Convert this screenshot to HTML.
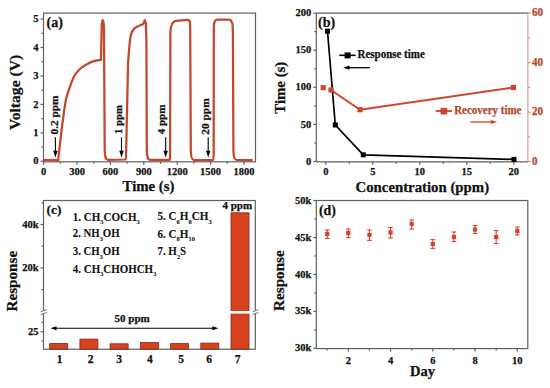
<!DOCTYPE html>
<html><head><meta charset="utf-8"><style>
html,body{margin:0;padding:0;background:#fff;}
svg{display:block;}
text{font-family:"Liberation Serif", serif;font-weight:bold;stroke-width:0.25px;}
</style></head><body>
<svg width="550" height="388" viewBox="0 0 550 388">
<rect width="550" height="388" fill="#fff"/>
<rect x="43.50" y="13.10" width="212.00" height="148.70" fill="none" stroke="#606060" stroke-width="1.2"/>
<line x1="40.50" y1="161.30" x2="43.50" y2="161.30" stroke="#606060" stroke-width="1.2"/>
<text x="38.60" y="164.40" font-size="11.2" text-anchor="end" fill="#111" stroke="#111" textLength="5.25" lengthAdjust="spacingAndGlyphs">0</text>
<line x1="40.50" y1="132.85" x2="43.50" y2="132.85" stroke="#606060" stroke-width="1.2"/>
<text x="38.60" y="135.95" font-size="11.2" text-anchor="end" fill="#111" stroke="#111" textLength="5.25" lengthAdjust="spacingAndGlyphs">1</text>
<line x1="40.50" y1="104.40" x2="43.50" y2="104.40" stroke="#606060" stroke-width="1.2"/>
<text x="38.60" y="107.50" font-size="11.2" text-anchor="end" fill="#111" stroke="#111" textLength="5.25" lengthAdjust="spacingAndGlyphs">2</text>
<line x1="40.50" y1="75.95" x2="43.50" y2="75.95" stroke="#606060" stroke-width="1.2"/>
<text x="38.60" y="79.05" font-size="11.2" text-anchor="end" fill="#111" stroke="#111" textLength="5.25" lengthAdjust="spacingAndGlyphs">3</text>
<line x1="40.50" y1="47.50" x2="43.50" y2="47.50" stroke="#606060" stroke-width="1.2"/>
<text x="38.60" y="50.60" font-size="11.2" text-anchor="end" fill="#111" stroke="#111" textLength="5.25" lengthAdjust="spacingAndGlyphs">4</text>
<line x1="40.50" y1="19.05" x2="43.50" y2="19.05" stroke="#606060" stroke-width="1.2"/>
<text x="38.60" y="22.15" font-size="11.2" text-anchor="end" fill="#111" stroke="#111" textLength="5.25" lengthAdjust="spacingAndGlyphs">5</text>
<line x1="41.50" y1="147.08" x2="43.50" y2="147.08" stroke="#606060" stroke-width="1.2"/>
<line x1="41.50" y1="118.63" x2="43.50" y2="118.63" stroke="#606060" stroke-width="1.2"/>
<line x1="41.50" y1="90.18" x2="43.50" y2="90.18" stroke="#606060" stroke-width="1.2"/>
<line x1="41.50" y1="61.73" x2="43.50" y2="61.73" stroke="#606060" stroke-width="1.2"/>
<line x1="41.50" y1="33.28" x2="43.50" y2="33.28" stroke="#606060" stroke-width="1.2"/>
<line x1="43.60" y1="161.80" x2="43.60" y2="164.80" stroke="#606060" stroke-width="1.2"/>
<text x="43.60" y="175.30" font-size="11.2" text-anchor="middle" fill="#111" stroke="#111" textLength="5.25" lengthAdjust="spacingAndGlyphs">0</text>
<line x1="77.00" y1="161.80" x2="77.00" y2="164.80" stroke="#606060" stroke-width="1.2"/>
<text x="77.00" y="175.30" font-size="11.2" text-anchor="middle" fill="#111" stroke="#111" textLength="15.75" lengthAdjust="spacingAndGlyphs">300</text>
<line x1="110.40" y1="161.80" x2="110.40" y2="164.80" stroke="#606060" stroke-width="1.2"/>
<text x="110.40" y="175.30" font-size="11.2" text-anchor="middle" fill="#111" stroke="#111" textLength="15.75" lengthAdjust="spacingAndGlyphs">600</text>
<line x1="143.80" y1="161.80" x2="143.80" y2="164.80" stroke="#606060" stroke-width="1.2"/>
<text x="143.80" y="175.30" font-size="11.2" text-anchor="middle" fill="#111" stroke="#111" textLength="15.75" lengthAdjust="spacingAndGlyphs">900</text>
<line x1="177.20" y1="161.80" x2="177.20" y2="164.80" stroke="#606060" stroke-width="1.2"/>
<text x="177.20" y="175.30" font-size="11.2" text-anchor="middle" fill="#111" stroke="#111" textLength="21.0" lengthAdjust="spacingAndGlyphs">1200</text>
<line x1="210.59" y1="161.80" x2="210.59" y2="164.80" stroke="#606060" stroke-width="1.2"/>
<text x="210.59" y="175.30" font-size="11.2" text-anchor="middle" fill="#111" stroke="#111" textLength="21.0" lengthAdjust="spacingAndGlyphs">1500</text>
<line x1="243.99" y1="161.80" x2="243.99" y2="164.80" stroke="#606060" stroke-width="1.2"/>
<text x="243.99" y="175.30" font-size="11.2" text-anchor="middle" fill="#111" stroke="#111" textLength="21.0" lengthAdjust="spacingAndGlyphs">1800</text>
<line x1="60.30" y1="161.80" x2="60.30" y2="163.80" stroke="#606060" stroke-width="1.2"/>
<line x1="93.70" y1="161.80" x2="93.70" y2="163.80" stroke="#606060" stroke-width="1.2"/>
<line x1="127.10" y1="161.80" x2="127.10" y2="163.80" stroke="#606060" stroke-width="1.2"/>
<line x1="160.50" y1="161.80" x2="160.50" y2="163.80" stroke="#606060" stroke-width="1.2"/>
<line x1="193.90" y1="161.80" x2="193.90" y2="163.80" stroke="#606060" stroke-width="1.2"/>
<line x1="227.29" y1="161.80" x2="227.29" y2="163.80" stroke="#606060" stroke-width="1.2"/>
<text x="148.50" y="191.40" font-size="14.8" text-anchor="middle" fill="#111" stroke="#111">Time (s)</text>
<text x="20.00" y="92.50" font-size="15.6" text-anchor="middle" fill="#111" stroke="#111" transform="rotate(-90 20.00 92.50)">Voltage (V)</text>
<text x="46.60" y="26.90" font-size="14.0" text-anchor="start" fill="#111" stroke="#111">(a)</text>
<path d="M43.80,160.20 C44.83,160.17 47.73,160.03 50.00,160.00 C52.27,159.97 56.02,160.25 57.40,160.00 C58.78,159.75 57.77,162.10 58.30,158.50 C58.83,154.90 59.82,144.98 60.60,138.40 C61.38,131.82 62.12,125.40 63.00,119.00 C63.88,112.60 64.82,105.17 65.90,100.00 C66.98,94.83 68.10,92.00 69.50,88.00 C70.90,84.00 72.52,79.20 74.30,76.00 C76.08,72.80 78.10,70.77 80.20,68.80 C82.30,66.83 84.67,65.47 86.90,64.20 C89.13,62.93 91.25,61.92 93.60,61.20 C95.95,60.48 99.77,60.12 101.00,59.90 L101.6,30 C101.6,22 102.0,19.8 102.7,19.8 C103.5,19.8 103.9,22 104.0,30 L104.7,150 C104.9,157 105.6,159.5 108,159.9 L125.6,159.5 C126.1,159 126.2,150 126.4,140 L128.1,62  C128.37,58.83 129.20,47.62 129.70,43.00 C130.20,38.38 130.45,36.58 131.10,34.30 C131.75,32.02 132.57,30.62 133.60,29.30 C134.63,27.98 135.85,27.18 137.30,26.40 C138.75,25.62 141.25,25.08 142.30,24.60 C143.35,24.12 143.38,23.68 143.60,23.50 L144.7,20.2 L145.9,23 L146.4,40 L146.8,150 C147.0,157 147.6,159.5 149.8,159.9 L169.5,159.9 C170.0,159.9 170.1,157 170.1,150 L170.4,32 C170.8,25 172.5,21.2 176,20.8 L187.5,19.8 C189.4,19.6 190.0,21 190.2,26 L190.8,150 C190.9,157 191.6,159.9 193.8,160.0 L213.4,160.0 C213.6,160.0 213.7,157 213.7,150 L213.8,28 C213.9,21.5 214.8,19.8 217.5,19.7 L228.5,19.6 C230.5,19.6 231.5,20.5 232.2,23 C232.8,25.5 232.9,28 232.9,34 L233.4,150 C233.5,157 234.2,159.9 236.5,160.0 L251.8,160.1" fill="none" stroke="#c4472c" stroke-width="2.25" stroke-linejoin="round" stroke-linecap="round"/>
<line x1="55.40" y1="137.30" x2="55.40" y2="151.80" stroke="#000" stroke-width="1.1"/>
<path d="M53.20,150.80 L57.60,150.80 L55.40,157.60 Z" fill="#000"/>
<line x1="121.50" y1="137.30" x2="121.50" y2="151.80" stroke="#000" stroke-width="1.1"/>
<path d="M119.30,150.80 L123.70,150.80 L121.50,157.60 Z" fill="#000"/>
<line x1="165.70" y1="137.30" x2="165.70" y2="151.80" stroke="#000" stroke-width="1.1"/>
<path d="M163.50,150.80 L167.90,150.80 L165.70,157.60 Z" fill="#000"/>
<line x1="208.20" y1="137.30" x2="208.20" y2="151.80" stroke="#000" stroke-width="1.1"/>
<path d="M206.00,150.80 L210.40,150.80 L208.20,157.60 Z" fill="#000"/>
<text x="58.50" y="134.40" font-size="11.3" text-anchor="start" fill="#111" stroke="#111" transform="rotate(-90 58.50 134.40)">0.2 ppm</text>
<text x="121.80" y="134.00" font-size="10.7" text-anchor="start" fill="#111" stroke="#111" transform="rotate(-90 121.80 134.00)">1 ppm</text>
<text x="165.20" y="134.30" font-size="11" text-anchor="start" fill="#111" stroke="#111" transform="rotate(-90 165.20 134.30)">4 ppm</text>
<text x="209.00" y="134.70" font-size="11.4" text-anchor="start" fill="#111" stroke="#111" transform="rotate(-90 209.00 134.70)">20 ppm</text>
<line x1="316.30" y1="13.10" x2="527.90" y2="13.10" stroke="#606060" stroke-width="1.2"/>
<line x1="316.30" y1="13.10" x2="316.30" y2="161.80" stroke="#606060" stroke-width="1.2"/>
<line x1="316.30" y1="161.80" x2="527.90" y2="161.80" stroke="#606060" stroke-width="1.2"/>
<line x1="527.90" y1="13.10" x2="527.90" y2="161.80" stroke="#d98b7c" stroke-width="1"/>
<line x1="313.30" y1="161.50" x2="316.30" y2="161.50" stroke="#606060" stroke-width="1.2"/>
<text x="311.30" y="164.60" font-size="11.2" text-anchor="end" fill="#111" stroke="#111" textLength="5.25" lengthAdjust="spacingAndGlyphs">0</text>
<line x1="313.30" y1="124.40" x2="316.30" y2="124.40" stroke="#606060" stroke-width="1.2"/>
<text x="311.30" y="127.50" font-size="11.2" text-anchor="end" fill="#111" stroke="#111" textLength="10.5" lengthAdjust="spacingAndGlyphs">50</text>
<line x1="313.30" y1="87.30" x2="316.30" y2="87.30" stroke="#606060" stroke-width="1.2"/>
<text x="311.30" y="90.40" font-size="11.2" text-anchor="end" fill="#111" stroke="#111" textLength="15.75" lengthAdjust="spacingAndGlyphs">100</text>
<line x1="313.30" y1="50.20" x2="316.30" y2="50.20" stroke="#606060" stroke-width="1.2"/>
<text x="311.30" y="53.30" font-size="11.2" text-anchor="end" fill="#111" stroke="#111" textLength="15.75" lengthAdjust="spacingAndGlyphs">150</text>
<line x1="313.30" y1="13.10" x2="316.30" y2="13.10" stroke="#606060" stroke-width="1.2"/>
<text x="311.30" y="16.20" font-size="11.2" text-anchor="end" fill="#111" stroke="#111" textLength="15.75" lengthAdjust="spacingAndGlyphs">200</text>
<line x1="314.30" y1="142.95" x2="316.30" y2="142.95" stroke="#606060" stroke-width="1.2"/>
<line x1="314.30" y1="105.85" x2="316.30" y2="105.85" stroke="#606060" stroke-width="1.2"/>
<line x1="314.30" y1="68.75" x2="316.30" y2="68.75" stroke="#606060" stroke-width="1.2"/>
<line x1="314.30" y1="31.65" x2="316.30" y2="31.65" stroke="#606060" stroke-width="1.2"/>
<line x1="527.90" y1="161.50" x2="530.90" y2="161.50" stroke="#d98b7c" stroke-width="1.2"/>
<text x="532.00" y="164.80" font-size="11.5" text-anchor="start" fill="#b4472e" stroke="#b4472e" textLength="5.5" lengthAdjust="spacingAndGlyphs">0</text>
<line x1="527.90" y1="112.04" x2="530.90" y2="112.04" stroke="#d98b7c" stroke-width="1.2"/>
<text x="532.00" y="115.34" font-size="11.5" text-anchor="start" fill="#b4472e" stroke="#b4472e" textLength="11.0" lengthAdjust="spacingAndGlyphs">20</text>
<line x1="527.90" y1="62.58" x2="530.90" y2="62.58" stroke="#d98b7c" stroke-width="1.2"/>
<text x="532.00" y="65.88" font-size="11.5" text-anchor="start" fill="#b4472e" stroke="#b4472e" textLength="11.0" lengthAdjust="spacingAndGlyphs">40</text>
<line x1="527.90" y1="13.12" x2="530.90" y2="13.12" stroke="#d98b7c" stroke-width="1.2"/>
<text x="532.00" y="16.42" font-size="11.5" text-anchor="start" fill="#b4472e" stroke="#b4472e" textLength="11.0" lengthAdjust="spacingAndGlyphs">60</text>
<line x1="527.90" y1="136.77" x2="529.90" y2="136.77" stroke="#d98b7c" stroke-width="1.2"/>
<line x1="527.90" y1="87.31" x2="529.90" y2="87.31" stroke="#d98b7c" stroke-width="1.2"/>
<line x1="527.90" y1="37.85" x2="529.90" y2="37.85" stroke="#d98b7c" stroke-width="1.2"/>
<line x1="325.80" y1="161.80" x2="325.80" y2="164.80" stroke="#606060" stroke-width="1.2"/>
<text x="325.80" y="175.30" font-size="11.2" text-anchor="middle" fill="#111" stroke="#111" textLength="5.25" lengthAdjust="spacingAndGlyphs">0</text>
<line x1="372.80" y1="161.80" x2="372.80" y2="164.80" stroke="#606060" stroke-width="1.2"/>
<text x="372.80" y="175.30" font-size="11.2" text-anchor="middle" fill="#111" stroke="#111" textLength="5.25" lengthAdjust="spacingAndGlyphs">5</text>
<line x1="419.80" y1="161.80" x2="419.80" y2="164.80" stroke="#606060" stroke-width="1.2"/>
<text x="419.80" y="175.30" font-size="11.2" text-anchor="middle" fill="#111" stroke="#111" textLength="10.5" lengthAdjust="spacingAndGlyphs">10</text>
<line x1="466.80" y1="161.80" x2="466.80" y2="164.80" stroke="#606060" stroke-width="1.2"/>
<text x="466.80" y="175.30" font-size="11.2" text-anchor="middle" fill="#111" stroke="#111" textLength="10.5" lengthAdjust="spacingAndGlyphs">15</text>
<line x1="513.80" y1="161.80" x2="513.80" y2="164.80" stroke="#606060" stroke-width="1.2"/>
<text x="513.80" y="175.30" font-size="11.2" text-anchor="middle" fill="#111" stroke="#111" textLength="10.5" lengthAdjust="spacingAndGlyphs">20</text>
<line x1="349.30" y1="161.80" x2="349.30" y2="163.80" stroke="#606060" stroke-width="1.2"/>
<line x1="396.30" y1="161.80" x2="396.30" y2="163.80" stroke="#606060" stroke-width="1.2"/>
<line x1="443.30" y1="161.80" x2="443.30" y2="163.80" stroke="#606060" stroke-width="1.2"/>
<line x1="490.30" y1="161.80" x2="490.30" y2="163.80" stroke="#606060" stroke-width="1.2"/>
<text x="422.30" y="191.80" font-size="14.8" text-anchor="middle" fill="#111" stroke="#111">Concentration (ppm)</text>
<text x="284.70" y="87.70" font-size="14.8" text-anchor="middle" fill="#111" stroke="#111" transform="rotate(-90 284.70 87.70)">Time (s)</text>
<text x="318.00" y="26.60" font-size="14.0" text-anchor="start" fill="#111" stroke="#111">(b)</text>
<polyline points="331.0,90.0 360.0,109.7 513.5,87.5" fill="none" stroke="#d2452a" stroke-width="1.9"/>
<polyline points="327.5,31.2 335.3,125.0 363.3,154.8 514.0,159.4" fill="none" stroke="#000" stroke-width="1.7"/>
<rect x="320.60" y="85.10" width="5.2" height="5.2" fill="#d2452a"/>
<rect x="328.40" y="87.40" width="5.2" height="5.2" fill="#d2452a"/>
<rect x="357.40" y="107.10" width="5.2" height="5.2" fill="#d2452a"/>
<rect x="510.90" y="84.90" width="5.2" height="5.2" fill="#d2452a"/>
<rect x="325.00" y="28.70" width="5.0" height="5.0" fill="#000"/>
<rect x="332.80" y="122.50" width="5.0" height="5.0" fill="#000"/>
<rect x="360.80" y="152.30" width="5.0" height="5.0" fill="#000"/>
<rect x="511.50" y="156.90" width="5.0" height="5.0" fill="#000"/>
<line x1="339.30" y1="55.30" x2="355.60" y2="55.30" stroke="#000" stroke-width="1.6"/>
<rect x="344.6" y="52.4" width="6.0" height="6.0" fill="#000"/>
<text x="357.60" y="58.00" font-size="11.8" text-anchor="start" fill="#111" stroke="#111" textLength="67.2" lengthAdjust="spacingAndGlyphs">Response time</text>
<line x1="345.00" y1="67.70" x2="369.90" y2="67.70" stroke="#000" stroke-width="1.3"/>
<path d="M343.2,67.7 L349.5,65.6 L349.5,69.8 Z" fill="#000"/>
<line x1="435.80" y1="111.00" x2="452.10" y2="111.00" stroke="#d2452a" stroke-width="1.8"/>
<rect x="440.9" y="108.1" width="6.0" height="6.0" fill="#d2452a" stroke="#a83a22" stroke-width="0.5"/>
<text x="454.20" y="113.80" font-size="11.8" text-anchor="start" fill="#b4472e" stroke="#b4472e" textLength="67.3" lengthAdjust="spacingAndGlyphs">Recovery time</text>
<line x1="470.40" y1="122.00" x2="495.00" y2="122.00" stroke="#d2452a" stroke-width="1.3"/>
<path d="M497.2,122 L490.9,119.9 L490.9,124.1 Z" fill="#d2452a"/>
<rect x="43.50" y="200.50" width="211.80" height="148.70" fill="none" stroke="#606060" stroke-width="1.2"/>
<line x1="40.50" y1="267.90" x2="43.50" y2="267.90" stroke="#606060" stroke-width="1.2"/>
<text x="38.60" y="271.00" font-size="11.2" text-anchor="end" fill="#111" stroke="#111" textLength="16.34" lengthAdjust="spacingAndGlyphs">20k</text>
<line x1="40.50" y1="224.50" x2="43.50" y2="224.50" stroke="#606060" stroke-width="1.2"/>
<text x="38.60" y="227.60" font-size="11.2" text-anchor="end" fill="#111" stroke="#111" textLength="16.34" lengthAdjust="spacingAndGlyphs">40k</text>
<line x1="41.50" y1="289.60" x2="43.50" y2="289.60" stroke="#606060" stroke-width="1.2"/>
<line x1="41.50" y1="246.20" x2="43.50" y2="246.20" stroke="#606060" stroke-width="1.2"/>
<line x1="41.50" y1="202.80" x2="43.50" y2="202.80" stroke="#606060" stroke-width="1.2"/>
<line x1="40.50" y1="331.70" x2="43.50" y2="331.70" stroke="#606060" stroke-width="1.2"/>
<text x="38.60" y="334.80" font-size="11.2" text-anchor="end" fill="#111" stroke="#111" textLength="10.5" lengthAdjust="spacingAndGlyphs">25</text>
<line x1="41.50" y1="341.00" x2="43.50" y2="341.00" stroke="#606060" stroke-width="1.2"/>
<line x1="41.50" y1="322.40" x2="43.50" y2="322.40" stroke="#606060" stroke-width="1.2"/>
<rect x="49.70" y="343.60" width="18.0" height="5.60" fill="#d8411d" stroke="#7a2c18" stroke-width="0.8"/>
<text x="59.70" y="363.40" font-size="11.5" text-anchor="middle" fill="#111" stroke="#111">1</text>
<rect x="79.92" y="339.10" width="18.0" height="10.10" fill="#d8411d" stroke="#7a2c18" stroke-width="0.8"/>
<text x="90.60" y="363.40" font-size="11.5" text-anchor="middle" fill="#111" stroke="#111">2</text>
<rect x="110.14" y="343.80" width="18.0" height="5.40" fill="#d8411d" stroke="#7a2c18" stroke-width="0.8"/>
<text x="119.00" y="363.40" font-size="11.5" text-anchor="middle" fill="#111" stroke="#111">3</text>
<rect x="140.36" y="342.40" width="18.0" height="6.80" fill="#d8411d" stroke="#7a2c18" stroke-width="0.8"/>
<text x="149.90" y="363.40" font-size="11.5" text-anchor="middle" fill="#111" stroke="#111">4</text>
<rect x="170.58" y="343.60" width="18.0" height="5.60" fill="#d8411d" stroke="#7a2c18" stroke-width="0.8"/>
<text x="181.00" y="363.40" font-size="11.5" text-anchor="middle" fill="#111" stroke="#111">5</text>
<rect x="200.80" y="343.10" width="18.0" height="6.10" fill="#d8411d" stroke="#7a2c18" stroke-width="0.8"/>
<text x="209.20" y="363.40" font-size="11.5" text-anchor="middle" fill="#111" stroke="#111">6</text>
<rect x="231.02" y="212.8" width="18.0" height="136.40" fill="#d8411d" stroke="#7a2c18" stroke-width="0.8"/>
<text x="237.60" y="363.40" font-size="11.5" text-anchor="middle" fill="#111" stroke="#111">7</text>
<rect x="230.02" y="311.0" width="20" height="2.6" fill="#fff"/>
<path d="M40.90,311.80 L46.70,309.60 L46.70,312.40 L40.90,314.60 Z" fill="#fff"/>
<line x1="40.90" y1="311.80" x2="46.70" y2="309.60" stroke="#666" stroke-width="0.9"/>
<line x1="40.90" y1="314.60" x2="46.70" y2="312.40" stroke="#666" stroke-width="0.9"/>
<path d="M252.70,311.80 L258.50,309.60 L258.50,312.40 L252.70,314.60 Z" fill="#fff"/>
<line x1="252.70" y1="311.80" x2="258.50" y2="309.60" stroke="#666" stroke-width="0.9"/>
<line x1="252.70" y1="314.60" x2="258.50" y2="312.40" stroke="#666" stroke-width="0.9"/>
<text x="237.30" y="208.60" font-size="11" text-anchor="middle" fill="#111" stroke="#111">4 ppm</text>
<line x1="53.00" y1="328.30" x2="216.00" y2="328.30" stroke="#000" stroke-width="1.1"/>
<path d="M50.5,328.3 L56.5,326.3 L56.5,330.3 Z" fill="#000"/>
<path d="M218.3,328.3 L212.3,326.3 L212.3,330.3 Z" fill="#000"/>
<text x="132.20" y="322.30" font-size="11" text-anchor="middle" fill="#111" stroke="#111">50 ppm</text>
<text x="46.60" y="213.60" font-size="13.4" text-anchor="start" fill="#111" stroke="#111">(c)</text>
<text x="17.50" y="281.20" font-size="15.2" text-anchor="middle" fill="#111" stroke="#111" transform="rotate(-90 17.50 281.20)">Response</text>
<text x="72.8" y="221.0" font-size="11.8" fill="#111" stroke="#111" style="stroke-width:0.1px" textLength="67.0" lengthAdjust="spacingAndGlyphs"><tspan dy="0">1. CH</tspan><tspan font-size="6.8" dy="3.4">3</tspan><tspan dy="-3.4">COCH</tspan><tspan font-size="6.8" dy="3.4">3</tspan></text>
<text x="72.8" y="237.1" font-size="11.8" fill="#111" stroke="#111" style="stroke-width:0.1px" textLength="46.8" lengthAdjust="spacingAndGlyphs"><tspan dy="0">2. NH</tspan><tspan font-size="6.8" dy="3.4">3</tspan><tspan dy="-3.4">OH</tspan></text>
<text x="72.8" y="255.1" font-size="11.8" fill="#111" stroke="#111" style="stroke-width:0.1px" textLength="46.8" lengthAdjust="spacingAndGlyphs"><tspan dy="0">3. CH</tspan><tspan font-size="6.8" dy="3.4">3</tspan><tspan dy="-3.4">OH</tspan></text>
<text x="72.8" y="272.6" font-size="11.8" fill="#111" stroke="#111" style="stroke-width:0.1px" textLength="83.5" lengthAdjust="spacingAndGlyphs"><tspan dy="0">4. CH</tspan><tspan font-size="6.8" dy="3.4">3</tspan><tspan dy="-3.4">CHOHCH</tspan><tspan font-size="6.8" dy="3.4">3</tspan></text>
<text x="157.4" y="220.4" font-size="11.8" fill="#111" stroke="#111" style="stroke-width:0.1px" textLength="54.3" lengthAdjust="spacingAndGlyphs"><tspan dy="0">5. C</tspan><tspan font-size="6.8" dy="3.4">6</tspan><tspan dy="-3.4">H</tspan><tspan font-size="6.8" dy="3.4">8</tspan><tspan dy="-3.4">CH</tspan><tspan font-size="6.8" dy="3.4">3</tspan></text>
<text x="157.4" y="237.6" font-size="11.8" fill="#111" stroke="#111" style="stroke-width:0.1px" textLength="37.5" lengthAdjust="spacingAndGlyphs"><tspan dy="0">6. C</tspan><tspan font-size="6.8" dy="3.4">8</tspan><tspan dy="-3.4">H</tspan><tspan font-size="6.8" dy="3.4">10</tspan></text>
<text x="157.4" y="255.4" font-size="11.8" fill="#111" stroke="#111" style="stroke-width:0.1px" textLength="28.8" lengthAdjust="spacingAndGlyphs"><tspan dy="0">7. H</tspan><tspan font-size="6.8" dy="3.4">2</tspan><tspan dy="-3.4">S</tspan></text>
<rect x="316.30" y="200.50" width="211.50" height="148.10" fill="none" stroke="#606060" stroke-width="1.2"/>
<line x1="313.30" y1="348.30" x2="316.30" y2="348.30" stroke="#606060" stroke-width="1.2"/>
<text x="311.30" y="351.40" font-size="11.2" text-anchor="end" fill="#111" stroke="#111" textLength="16.34" lengthAdjust="spacingAndGlyphs">30k</text>
<line x1="313.30" y1="311.35" x2="316.30" y2="311.35" stroke="#606060" stroke-width="1.2"/>
<text x="311.30" y="314.45" font-size="11.2" text-anchor="end" fill="#111" stroke="#111" textLength="16.34" lengthAdjust="spacingAndGlyphs">35k</text>
<line x1="313.30" y1="274.40" x2="316.30" y2="274.40" stroke="#606060" stroke-width="1.2"/>
<text x="311.30" y="277.50" font-size="11.2" text-anchor="end" fill="#111" stroke="#111" textLength="16.34" lengthAdjust="spacingAndGlyphs">40k</text>
<line x1="313.30" y1="237.45" x2="316.30" y2="237.45" stroke="#606060" stroke-width="1.2"/>
<text x="311.30" y="240.55" font-size="11.2" text-anchor="end" fill="#111" stroke="#111" textLength="16.34" lengthAdjust="spacingAndGlyphs">45k</text>
<line x1="313.30" y1="200.50" x2="316.30" y2="200.50" stroke="#606060" stroke-width="1.2"/>
<text x="311.30" y="203.60" font-size="11.2" text-anchor="end" fill="#111" stroke="#111" textLength="16.34" lengthAdjust="spacingAndGlyphs">50k</text>
<line x1="314.30" y1="329.82" x2="316.30" y2="329.82" stroke="#606060" stroke-width="1.2"/>
<line x1="314.30" y1="292.88" x2="316.30" y2="292.88" stroke="#606060" stroke-width="1.2"/>
<line x1="314.30" y1="255.93" x2="316.30" y2="255.93" stroke="#606060" stroke-width="1.2"/>
<line x1="314.30" y1="218.97" x2="316.30" y2="218.97" stroke="#606060" stroke-width="1.2"/>
<line x1="327.20" y1="348.60" x2="327.20" y2="350.60" stroke="#606060" stroke-width="1.2"/>
<line x1="348.32" y1="348.60" x2="348.32" y2="351.60" stroke="#606060" stroke-width="1.2"/>
<text x="348.32" y="363.50" font-size="11.2" text-anchor="middle" fill="#111" stroke="#111" textLength="5.25" lengthAdjust="spacingAndGlyphs">2</text>
<line x1="369.44" y1="348.60" x2="369.44" y2="350.60" stroke="#606060" stroke-width="1.2"/>
<line x1="390.56" y1="348.60" x2="390.56" y2="351.60" stroke="#606060" stroke-width="1.2"/>
<text x="390.56" y="363.50" font-size="11.2" text-anchor="middle" fill="#111" stroke="#111" textLength="5.25" lengthAdjust="spacingAndGlyphs">4</text>
<line x1="411.68" y1="348.60" x2="411.68" y2="350.60" stroke="#606060" stroke-width="1.2"/>
<line x1="432.80" y1="348.60" x2="432.80" y2="351.60" stroke="#606060" stroke-width="1.2"/>
<text x="432.80" y="363.50" font-size="11.2" text-anchor="middle" fill="#111" stroke="#111" textLength="5.25" lengthAdjust="spacingAndGlyphs">6</text>
<line x1="453.92" y1="348.60" x2="453.92" y2="350.60" stroke="#606060" stroke-width="1.2"/>
<line x1="475.04" y1="348.60" x2="475.04" y2="351.60" stroke="#606060" stroke-width="1.2"/>
<text x="475.04" y="363.50" font-size="11.2" text-anchor="middle" fill="#111" stroke="#111" textLength="5.25" lengthAdjust="spacingAndGlyphs">8</text>
<line x1="496.16" y1="348.60" x2="496.16" y2="350.60" stroke="#606060" stroke-width="1.2"/>
<line x1="517.28" y1="348.60" x2="517.28" y2="351.60" stroke="#606060" stroke-width="1.2"/>
<text x="517.28" y="363.50" font-size="11.2" text-anchor="middle" fill="#111" stroke="#111" textLength="10.5" lengthAdjust="spacingAndGlyphs">10</text>
<text x="422.60" y="376.30" font-size="14.5" text-anchor="middle" fill="#111" stroke="#111">Day</text>
<text x="284.00" y="280.60" font-size="15.2" text-anchor="middle" fill="#111" stroke="#111" transform="rotate(-90 284.00 280.60)">Response</text>
<text x="318.90" y="215.40" font-size="13.8" text-anchor="start" fill="#111" stroke="#111">(d)</text>
<line x1="327.20" y1="230.00" x2="327.20" y2="238.40" stroke="#d2452a" stroke-width="1.1"/>
<line x1="324.90" y1="230.00" x2="329.50" y2="230.00" stroke="#d2452a" stroke-width="1.1"/>
<line x1="324.90" y1="238.40" x2="329.50" y2="238.40" stroke="#d2452a" stroke-width="1.1"/>
<rect x="325.10" y="231.90" width="4.2" height="4.2" fill="#d2452a"/>
<line x1="348.32" y1="229.00" x2="348.32" y2="237.60" stroke="#d2452a" stroke-width="1.1"/>
<line x1="346.02" y1="229.00" x2="350.62" y2="229.00" stroke="#d2452a" stroke-width="1.1"/>
<line x1="346.02" y1="237.60" x2="350.62" y2="237.60" stroke="#d2452a" stroke-width="1.1"/>
<rect x="346.22" y="230.90" width="4.2" height="4.2" fill="#d2452a"/>
<line x1="369.44" y1="230.00" x2="369.44" y2="240.40" stroke="#d2452a" stroke-width="1.1"/>
<line x1="367.14" y1="230.00" x2="371.74" y2="230.00" stroke="#d2452a" stroke-width="1.1"/>
<line x1="367.14" y1="240.40" x2="371.74" y2="240.40" stroke="#d2452a" stroke-width="1.1"/>
<rect x="367.34" y="232.90" width="4.2" height="4.2" fill="#d2452a"/>
<line x1="390.56" y1="227.60" x2="390.56" y2="238.00" stroke="#d2452a" stroke-width="1.1"/>
<line x1="388.26" y1="227.60" x2="392.86" y2="227.60" stroke="#d2452a" stroke-width="1.1"/>
<line x1="388.26" y1="238.00" x2="392.86" y2="238.00" stroke="#d2452a" stroke-width="1.1"/>
<rect x="388.46" y="230.30" width="4.2" height="4.2" fill="#d2452a"/>
<line x1="411.68" y1="220.00" x2="411.68" y2="229.00" stroke="#d2452a" stroke-width="1.1"/>
<line x1="409.38" y1="220.00" x2="413.98" y2="220.00" stroke="#d2452a" stroke-width="1.1"/>
<line x1="409.38" y1="229.00" x2="413.98" y2="229.00" stroke="#d2452a" stroke-width="1.1"/>
<rect x="409.58" y="221.90" width="4.2" height="4.2" fill="#d2452a"/>
<line x1="432.80" y1="239.60" x2="432.80" y2="248.40" stroke="#d2452a" stroke-width="1.1"/>
<line x1="430.50" y1="239.60" x2="435.10" y2="239.60" stroke="#d2452a" stroke-width="1.1"/>
<line x1="430.50" y1="248.40" x2="435.10" y2="248.40" stroke="#d2452a" stroke-width="1.1"/>
<rect x="430.70" y="241.90" width="4.2" height="4.2" fill="#d2452a"/>
<line x1="453.92" y1="232.00" x2="453.92" y2="241.60" stroke="#d2452a" stroke-width="1.1"/>
<line x1="451.62" y1="232.00" x2="456.22" y2="232.00" stroke="#d2452a" stroke-width="1.1"/>
<line x1="451.62" y1="241.60" x2="456.22" y2="241.60" stroke="#d2452a" stroke-width="1.1"/>
<rect x="451.82" y="234.90" width="4.2" height="4.2" fill="#d2452a"/>
<line x1="475.04" y1="225.60" x2="475.04" y2="233.60" stroke="#d2452a" stroke-width="1.1"/>
<line x1="472.74" y1="225.60" x2="477.34" y2="225.60" stroke="#d2452a" stroke-width="1.1"/>
<line x1="472.74" y1="233.60" x2="477.34" y2="233.60" stroke="#d2452a" stroke-width="1.1"/>
<rect x="472.94" y="227.50" width="4.2" height="4.2" fill="#d2452a"/>
<line x1="496.16" y1="230.60" x2="496.16" y2="243.60" stroke="#d2452a" stroke-width="1.1"/>
<line x1="493.86" y1="230.60" x2="498.46" y2="230.60" stroke="#d2452a" stroke-width="1.1"/>
<line x1="493.86" y1="243.60" x2="498.46" y2="243.60" stroke="#d2452a" stroke-width="1.1"/>
<rect x="494.06" y="234.90" width="4.2" height="4.2" fill="#d2452a"/>
<line x1="517.28" y1="227.00" x2="517.28" y2="235.00" stroke="#d2452a" stroke-width="1.1"/>
<line x1="514.98" y1="227.00" x2="519.58" y2="227.00" stroke="#d2452a" stroke-width="1.1"/>
<line x1="514.98" y1="235.00" x2="519.58" y2="235.00" stroke="#d2452a" stroke-width="1.1"/>
<rect x="515.18" y="228.90" width="4.2" height="4.2" fill="#d2452a"/>
</svg>
</body></html>
